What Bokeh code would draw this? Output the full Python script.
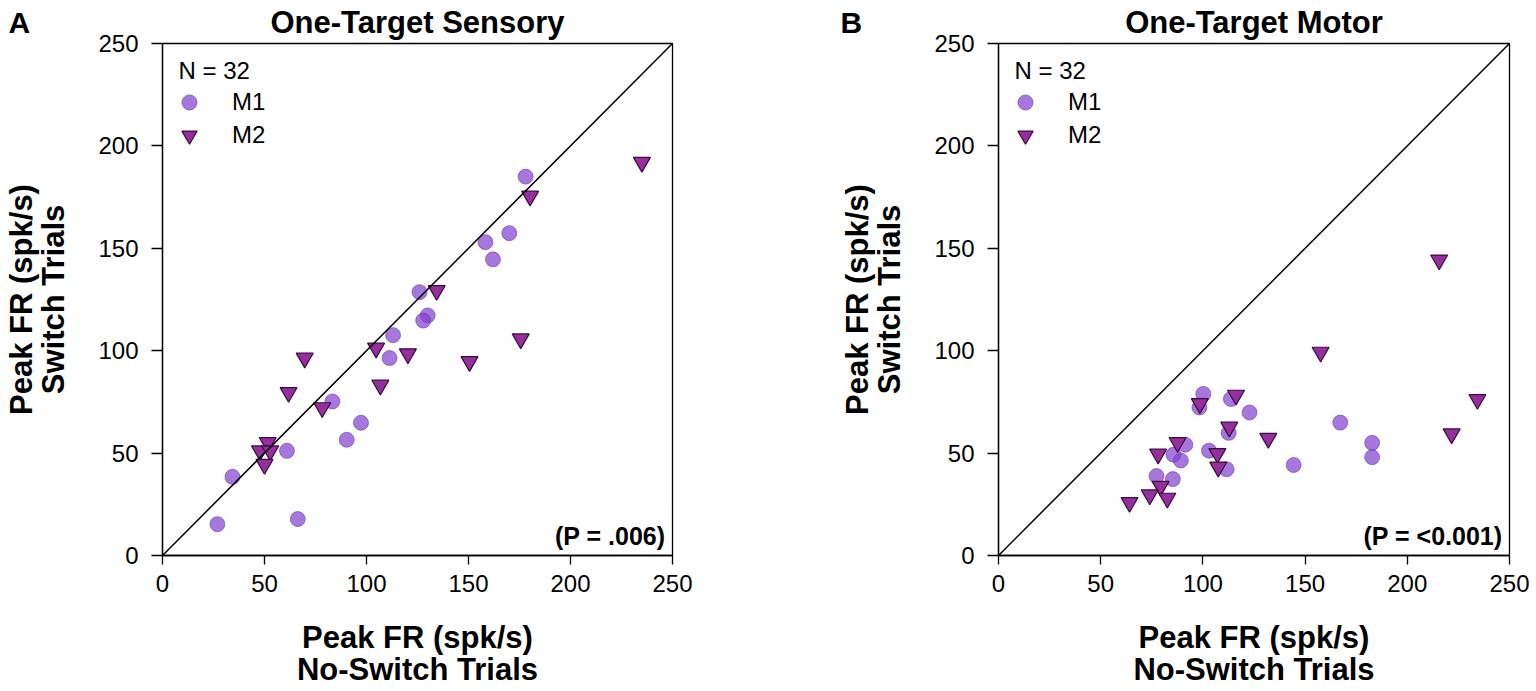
from bokeh.plotting import figure
from bokeh.models import Label, Slope, Legend, LegendItem, FixedTicker, Range1d
from bokeh.layouts import row
from bokeh.embed import file_html
from bokeh.resources import INLINE
from bokeh.core.properties import value

# ---------------- data ----------------
ticks = [0, 50, 100, 150, 200, 250]

# Panel A: One-Target Sensory
sens_m1_x = [178, 158.3, 170, 162, 126, 130, 127.8, 113, 111.3, 83.3, 97.3, 90.3, 61, 34.3, 26.9, 66.3]
sens_m1_y = [185, 153, 157.4, 144.6, 128.6, 117.2, 114.7, 107.6, 96.4, 75.2, 64.8, 56.5, 51.1, 38.4, 15.3, 17.8]
sens_m2_x = [235, 180.2, 134.4, 175.6, 104.7, 120.3, 150.5, 69.7, 106.8, 61.8, 78.3, 51.6, 47.8, 52.8, 50]
sens_m2_y = [192, 175.5, 129.4, 105.8, 101.3, 98.5, 94.7, 96.4, 83.2, 79.6, 72.2, 55.2, 51.1, 51.1, 44.5]

# Panel B: One-Target Motor
mot_m1_x = [100.2, 113.7, 98.3, 122.8, 167.2, 112.6, 91.4, 182.8, 182.8, 103, 85.6, 89.2, 144.4, 111.6, 77.3, 85.3]
mot_m1_y = [78.9, 76.4, 72.3, 69.8, 64.9, 59.9, 54.1, 55, 48, 51.2, 49.2, 46.4, 44.2, 42.1, 38.8, 37.3]
mot_m2_x = [215.6, 157.6, 234.3, 116.2, 98.5, 112.9, 132, 221.7, 87.6, 78.1, 107.1, 107.5, 79.3, 74, 82.6, 64.1]
mot_m2_y = [144.3, 99.3, 76.2, 78.3, 74.2, 62.7, 57.2, 59.4, 55.2, 49.5, 49.8, 43.2, 33.8, 29.6, 28, 25.9]

panel_letters = ["A", "B"]
panel_titles = ["One-Target Sensory", "One-Target Motor"]
p_texts = ["(P = .006)", "(P = <0.001)"]
n_text = "N = 32"
series_names = ["M1", "M2"]
xlabel_text = "Peak FR (spk/s)\nNo-Switch Trials"
ylabel_text = "Peak FR (spk/s)\nSwitch Trials"

FONT = "Liberation Sans"
M1_FILL = "#803ed0"
M1_LINE = "#6a3ab0"
M2_FILL = "#952f9c"
M2_LINE = "#3b0a40"

FRAME_H = 512
TOP = 43
BOTTOM = 135


def one_item_legend(label, renderer, center_from_top):
    # a single-row legend whose row is centred `center_from_top` px below the frame top
    return Legend(items=[LegendItem(label=label, renderers=[renderer])],
                  location=(8, FRAME_H - (center_from_top - 19) - 38), orientation="vertical",
                  glyph_width=38, glyph_height=38, label_height=38, spacing=0,
                  padding=0, margin=0,
                  label_standoff=24, label_text_font=FONT, label_text_font_size="24px",
                  label_text_color="black", border_line_color=None,
                  background_fill_alpha=0)


def make_panel(idx, m1x, m1y, m2x, m2y, frame_w, left, right, letter_dx):
    p = figure(frame_width=frame_w, frame_height=FRAME_H,
               x_range=Range1d(0, 250), y_range=Range1d(0, 250),
               min_border_left=left, min_border_right=right,
               min_border_top=TOP, min_border_bottom=BOTTOM,
               output_backend="svg", toolbar_location=None,
               background_fill_color="white", border_fill_color="white")
    p.grid.visible = False
    p.outline_line_color = "black"
    p.outline_line_width = 1.3
    p.outline_line_alpha = 1.0

    # title
    p.title.text = panel_titles[idx]
    p.title.align = "center"
    p.title.vertical_align = "middle"
    p.title.text_font = FONT
    p.title.text_font_size = "31px"
    p.title.text_font_style = "bold"
    p.title.text_color = "black"
    p.title.standoff = 5

    pyu = FRAME_H / 250.0
    pxu = frame_w / 250.0

    for ax in (p.xaxis[0], p.yaxis[0]):
        ax.ticker = FixedTicker(ticks=ticks)
        ax.minor_tick_line_color = None
        ax.major_tick_in = 0
        ax.axis_line_color = "black"
        ax.axis_line_width = 1.3
        ax.major_tick_line_color = "black"
        ax.major_tick_line_width = 1.3
        ax.major_label_text_font = FONT
        ax.major_label_text_font_size = "24px"
        ax.major_label_text_color = "black"
        ax.axis_label_text_font = FONT
        ax.axis_label_text_font_size = "31px"
        ax.axis_label_text_font_style = "bold"
        ax.axis_label_text_color = "black"
        ax.axis_label_text_line_height = 0.92
    p.xaxis[0].major_tick_out = 9
    p.xaxis[0].major_label_standoff = 10
    p.xaxis[0].axis_label = xlabel_text
    p.xaxis[0].axis_label_standoff = 25
    p.yaxis[0].major_tick_out = 11
    p.yaxis[0].major_label_standoff = 13
    p.yaxis[0].axis_label = ylabel_text
    p.yaxis[0].axis_label_standoff = 24

    p.add_layout(Slope(gradient=1, y_intercept=0, line_color="black", line_width=1.5))

    r1 = p.scatter(m1x, m1y, marker="circle", size=15, fill_color=M1_FILL, fill_alpha=0.7,
                   line_color=M1_LINE, line_alpha=0.6, line_width=1)
    r2 = p.scatter(m2x, m2y, marker="inverted_triangle", size=17, fill_color=M2_FILL, fill_alpha=1.0,
                   line_color=M2_LINE, line_width=1.2)

    p.add_layout(one_item_legend(series_names[0], r1, 59))
    p.add_layout(one_item_legend(series_names[1], r2, 92))

    # panel letter, drawn on the overlay level so it is not clipped to the frame
    p.text(x=[letter_dx / pxu], y=[250 + 21 / pyu], text=[panel_letters[idx]],
           text_font=value(FONT), text_font_size="30px", text_font_style="bold",
           text_color="black", text_align="left", text_baseline="middle",
           level="overlay")

    # N = 32 (inside the frame)
    p.add_layout(Label(x=16 / pxu, y=250 - 27 / pyu, text=n_text, text_font=FONT,
                       text_font_size="24px", text_color="black",
                       text_align="left", text_baseline="middle"))
    # P value (inside the frame)
    p.add_layout(Label(x=(frame_w - 7) / pxu, y=20 / pyu, text=p_texts[idx], text_font=FONT,
                       text_font_size="25px", text_font_style="bold", text_color="black",
                       text_align="right", text_baseline="middle"))
    return p


# frame A: x 162..672 ; frame B: x 998..1509
pA = make_panel(0, sens_m1_x, sens_m1_y, sens_m2_x, sens_m2_y, 510, 162, 21, 8 - 162)
pB = make_panel(1, mot_m1_x, mot_m1_y, mot_m2_x, mot_m2_y, 511, 305, 24, 840 - 998)

layout = row(pA, pB)
open("out.html", "w").write(file_html(layout, INLINE))
